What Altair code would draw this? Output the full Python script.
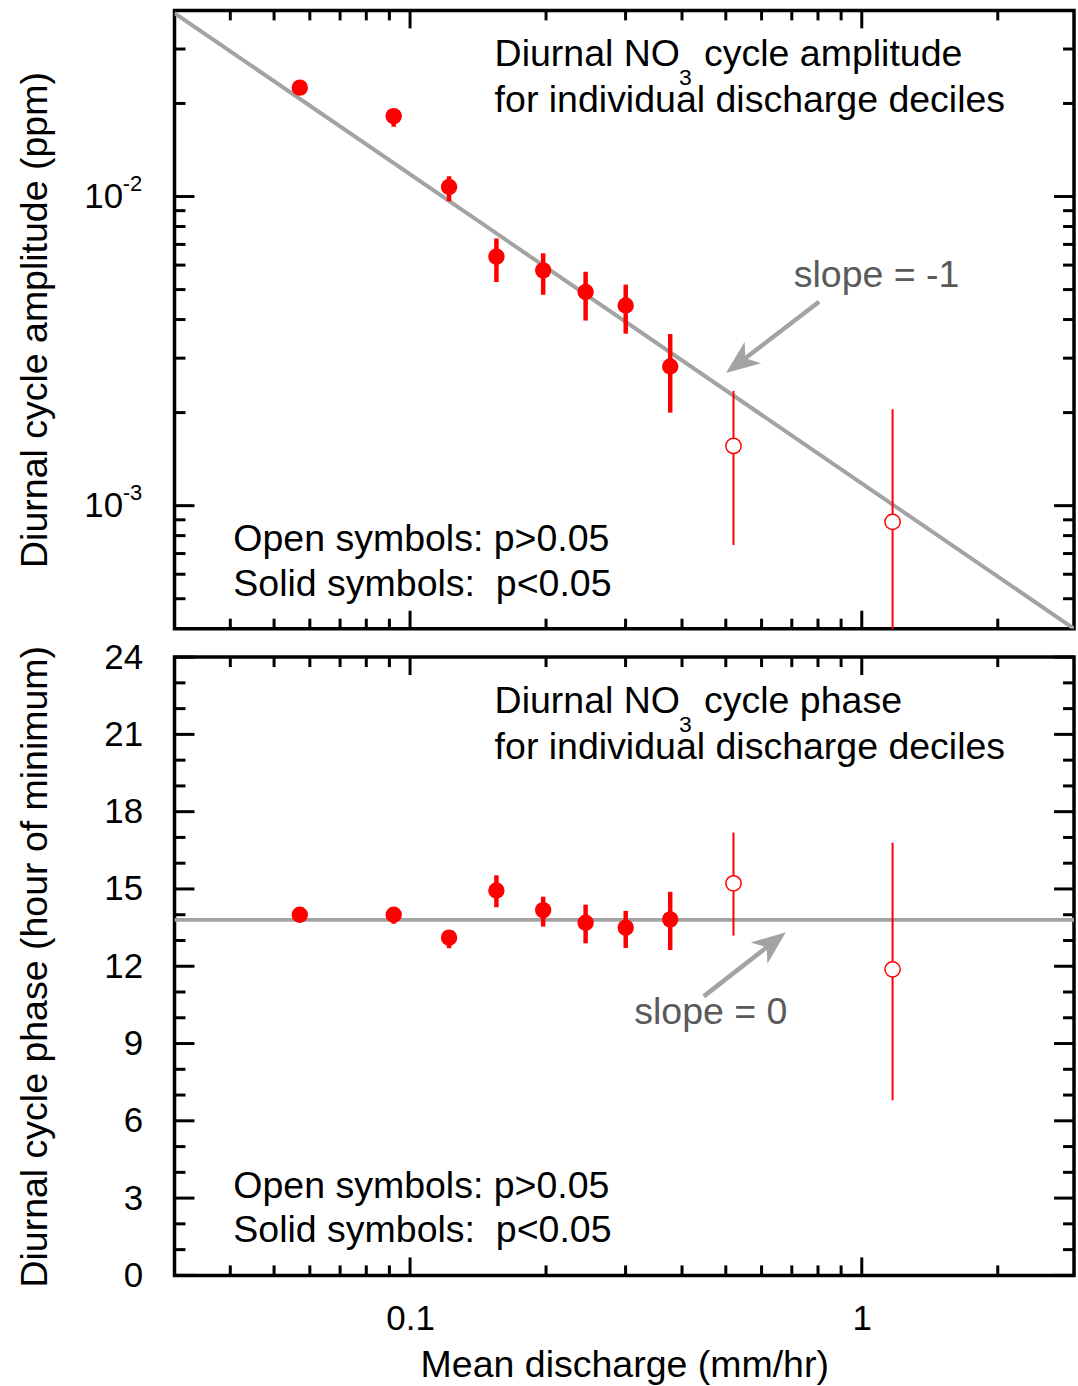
import math
import altair as alt
import pandas as pd

FONT = "Liberation Sans"
RED = "#ff0000"
GREY = "#a3a3a3"
TEXT_GREY = "#5a5a5a"

# ---------------- data ----------------
discharge = [0.0570, 0.0920, 0.1220, 0.1553, 0.1971, 0.2447, 0.3002, 0.3766, 0.5200, 1.170]
significant = [True, True, True, True, True, True, True, True, False, False]

amplitude = [0.0225, 0.0182, 0.01073, 0.00639, 0.00577, 0.00491, 0.00444, 0.00282, 0.00156, 0.000886]
amplitude_low = [0.0218, 0.0168, 0.00965, 0.00529, 0.00481, 0.00397, 0.00360, 0.00200, 0.000746, 0.0002]
amplitude_high = [0.0232, 0.0190, 0.01164, 0.00732, 0.00655, 0.00571, 0.00519, 0.00359, 0.00235, 0.00205]

phase = [14.0, 14.0, 13.11, 14.94, 14.18, 13.69, 13.50, 13.82, 15.22, 11.88]
phase_low = [13.8, 13.65, 12.70, 14.29, 13.54, 12.89, 12.71, 12.63, 13.19, 6.80]
phase_high = [14.2, 14.30, 13.40, 15.53, 14.70, 14.39, 14.15, 14.89, 17.19, 16.79]

amp_fit_coefficient = 0.00118   # amplitude = c / discharge  (slope = -1)
phase_fit_level = 13.8          # slope = 0
fit_x = [0.0301, 2.95]

x_domain = [0.0301, 2.95]
amp_domain = [0.0004, 0.04]
phase_domain = [0, 24]

x_major = [0.1, 1]
x_minor = [0.04, 0.05, 0.06, 0.07, 0.08, 0.09, 0.2, 0.3, 0.4, 0.5, 0.6, 0.7, 0.8, 0.9, 2]
amp_major = [0.001, 0.01]
amp_exponents = ["-3", "-2"]
amp_minor = [0.0005, 0.0006, 0.0007, 0.0008, 0.0009,
             0.002, 0.003, 0.004, 0.005, 0.006, 0.007, 0.008, 0.009, 0.02, 0.03]
phase_major = [0, 3, 6, 9, 12, 15, 18, 21, 24]
phase_minor = [1, 2, 4, 5, 7, 8, 10, 11, 13, 14, 16, 17, 19, 20, 22, 23]

amp_arrow_tail = [0.8044, 0.004564]
amp_arrow_tip = [0.5004, 0.002684]
phase_arrow_tail = [0.4467, 10.83]
phase_arrow_tip = [0.679, 13.32]

# ---------------- layout / style ----------------
W, H = 902, 620
FS = 37.6
HEAD_PATH = "M0,0 L-0.4,1 L0,0.72 L0.4,1 Z"
HEAD_SIZE = 4624

xscale = alt.Scale(type="log", domain=x_domain, nice=False)
amp_scale = alt.Scale(type="log", domain=amp_domain, nice=False)
phase_scale = alt.Scale(domain=phase_domain, nice=False, zero=False)

df = pd.DataFrame({
    "discharge": discharge, "sig": significant,
    "amp": amplitude, "amp_lo": amplitude_low, "amp_hi": amplitude_high,
    "phase": phase, "phase_lo": phase_low, "phase_hi": phase_high,
})

label_common = dict(ticks=False, tickSize=0, domain=False, grid=False, labelFontSize=35,
                    labelColor="black", labelFont=FONT, titleFont=FONT, titleFontSize=FS,
                    titleFontWeight="normal", titleColor="black")

amp_axis = alt.Axis(values=amp_major, labelExpr="'10'", labelPadding=52,
                    title="Diurnal cycle amplitude (ppm)", titleX=-128.5, titleY=H / 2,
                    titleAngle=270, titleAlign="center", titleBaseline="alphabetic", **label_common)
phase_axis = alt.Axis(values=phase_major, labelPadding=32,
                      title="Diurnal cycle phase (hour of minimum)", titleX=-128.5, titleY=H / 2,
                      titleAngle=270, titleAlign="center", titleBaseline="alphabetic", **label_common)
x_axis_bottom = alt.Axis(values=x_major, labelExpr="datum.value < 0.5 ? '0.1' : '1'", labelPadding=26,
                         title="Mean discharge (mm/hr)", titleX=W / 2, titleY=101.5,
                         titleAlign="center", titleBaseline="alphabetic", **label_common)


def tick_layers(xax):
    layers = []
    for vals, L in [(x_major, 18), (x_minor, 10)]:
        base = alt.Chart(pd.DataFrame({"t": vals})).mark_rule(color="black", strokeWidth=3).encode(
            x=alt.X("t:Q", scale=xscale, axis=xax))
        layers.append(base.encode(y=alt.value(0), y2=alt.value(L)))
        layers.append(base.encode(y=alt.value(H), y2=alt.value(H - L)))
    return layers


def ytick_layers(major, minor, ys, yax):
    layers = []
    for vals, L in [(major, 20), (minor, 11)]:
        base = alt.Chart(pd.DataFrame({"t": vals})).mark_rule(color="black", strokeWidth=3).encode(
            y=alt.Y("t:Q", scale=ys, axis=yax))
        layers.append(base.encode(x=alt.value(0), x2=alt.value(L)))
        layers.append(base.encode(x=alt.value(W), x2=alt.value(W - L)))
    return layers


def text(s, x, y, size=FS, color="black"):
    return alt.Chart(pd.DataFrame({"a": [0]})).mark_text(
        align="left", baseline="alphabetic", fontSize=size, color=color, font=FONT
    ).encode(x=alt.value(x), y=alt.value(y), text=alt.value(s))


def arrow(tail, tip, ys, log_y, angle, xax, yax):
    f = 0.19  # shaft ends a little inside the arrow head
    ex = 10 ** (math.log10(tip[0]) + f * (math.log10(tail[0]) - math.log10(tip[0])))
    if log_y:
        ey = 10 ** (math.log10(tip[1]) + f * (math.log10(tail[1]) - math.log10(tip[1])))
    else:
        ey = tip[1] + f * (tail[1] - tip[1])
    sdf = pd.DataFrame({"x": [tail[0]], "y": [tail[1]], "x2": [ex], "y2": [ey]})
    shaft = alt.Chart(sdf).mark_rule(color=GREY, strokeWidth=4.5).encode(
        x=alt.X("x:Q", scale=xscale, axis=xax), y=alt.Y("y:Q", scale=ys, axis=yax),
        x2="x2:Q", y2="y2:Q")
    hdf = pd.DataFrame({"x": [tip[0]], "y": [tip[1]]})
    head = alt.Chart(hdf).mark_point(shape=HEAD_PATH, size=HEAD_SIZE, filled=True, fill=GREY,
                                     strokeWidth=0, opacity=1, angle=angle).encode(
        x=alt.X("x:Q", scale=xscale, axis=xax), y=alt.Y("y:Q", scale=ys, axis=yax))
    return [shaft, head]


def data_layers(ycol, ys, xax, yax):
    xenc = alt.X("discharge:Q", scale=xscale, axis=xax)
    eb_solid = alt.Chart(df).transform_filter("datum.sig").mark_rule(
        color=RED, strokeWidth=4.5, clip=True).encode(
        x=xenc, y=alt.Y(f"{ycol}_lo:Q", scale=ys, axis=yax), y2=f"{ycol}_hi:Q")
    eb_open = alt.Chart(df).transform_filter("!datum.sig").mark_rule(
        color=RED, strokeWidth=2, clip=True).encode(
        x=xenc, y=alt.Y(f"{ycol}_lo:Q", scale=ys, axis=yax), y2=f"{ycol}_hi:Q")
    p_solid = alt.Chart(df).transform_filter("datum.sig").mark_point(
        shape="circle", filled=True, fill=RED, size=270, opacity=1, strokeWidth=0).encode(
        x=xenc, y=alt.Y(f"{ycol}:Q", scale=ys, axis=yax))
    p_open = alt.Chart(df).transform_filter("!datum.sig").mark_point(
        shape="circle", filled=True, fill="white", stroke=RED, strokeWidth=1.5, size=235,
        opacity=1).encode(x=xenc, y=alt.Y(f"{ycol}:Q", scale=ys, axis=yax))
    return [eb_solid, eb_open, p_solid, p_open]


# ---------------- top panel ----------------
fit_top_df = pd.DataFrame({"x": fit_x, "y": [amp_fit_coefficient / v for v in fit_x]})
fit_top = alt.Chart(fit_top_df).mark_line(color=GREY, strokeWidth=4, clip=True).encode(
    x=alt.X("x:Q", scale=xscale, axis=None), y=alt.Y("y:Q", scale=amp_scale, axis=amp_axis))

exp_df = pd.DataFrame({"v": amp_major, "e": amp_exponents})
exps = alt.Chart(exp_df).mark_text(align="left", baseline="alphabetic", fontSize=22, dy=-6,
                                   color="black", font=FONT).encode(
    y=alt.Y("v:Q", scale=amp_scale, axis=amp_axis), x=alt.value(-52), text="e:N")

top_layers = [fit_top] + data_layers("amp", amp_scale, None, amp_axis) + tick_layers(None) + \
    ytick_layers(amp_major, amp_minor, amp_scale, amp_axis) + [exps] + \
    arrow(amp_arrow_tail, amp_arrow_tip, amp_scale, True, 232.6, None, amp_axis) + [
    text("Diurnal NO", 321, 56), text("3", 506, 75, size=23), text("cycle amplitude", 531, 56),
    text("for individual discharge deciles", 321, 102),
    text("Open symbols: p>0.05", 59, 542), text("Solid symbols:\u00a0 p<0.05", 59, 587),
    text("slope = -1", 621, 277, color=TEXT_GREY),
]
top = alt.layer(*top_layers).properties(width=W, height=H)

# ---------------- bottom panel ----------------
fit_bot_df = pd.DataFrame({"x": fit_x, "y": [phase_fit_level for _ in fit_x]})
fit_bot = alt.Chart(fit_bot_df).mark_line(color=GREY, strokeWidth=4, clip=True).encode(
    x=alt.X("x:Q", scale=xscale, axis=x_axis_bottom),
    y=alt.Y("y:Q", scale=phase_scale, axis=phase_axis))

bot_layers = [fit_bot] + data_layers("phase", phase_scale, x_axis_bottom, phase_axis) + \
    tick_layers(x_axis_bottom) + \
    ytick_layers(phase_major, phase_minor, phase_scale, phase_axis) + \
    arrow(phase_arrow_tail, phase_arrow_tip, phase_scale, False, 52.0, x_axis_bottom, phase_axis) + [
    text("Diurnal NO", 321, 56), text("3", 506, 75, size=23), text("cycle phase", 531, 56),
    text("for individual discharge deciles", 321, 102),
    text("Open symbols: p>0.05", 59, 542), text("Solid symbols:\u00a0 p<0.05", 59, 587),
    text("slope = 0", 461, 368, color=TEXT_GREY),
]
bottom = alt.layer(*bot_layers).properties(width=W, height=H)

chart = alt.vconcat(top, bottom, spacing=5.5).properties(
    padding={"left": 14, "top": 4.5, "right": 0, "bottom": 0}, background="white"
).configure(font=FONT).configure_view(stroke="black", strokeWidth=3.5).configure_axis(grid=False)

chart.save("out.html", embed_options={"renderer": "svg", "actions": False})
